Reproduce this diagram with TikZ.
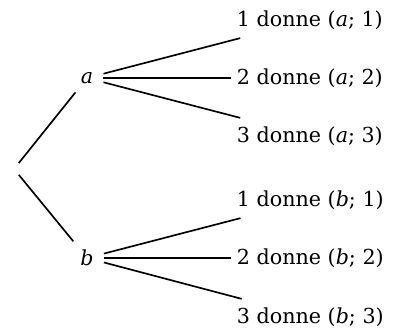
\documentclass[tikz,border=0pt]{standalone}
\usepackage{fontspec}
\setmainfont{DejaVu Serif}
\begin{document}
\begin{tikzpicture}[x=0.6pt,y=-0.6pt,
  every node/.style={font=\fontsize{12.4}{15}\selectfont},
  branch/.style={line width=1pt},
  inner/.style={inner xsep=6pt, inner ysep=5pt},
  leaf/.style={anchor=west, inner ysep=5pt}]
\useasboundingbox (0,0) rectangle (395,330);
\node (root) at (14,169) {};
\node[inner] (a) at (87,78) {\textit{a}};
\node[inner] (b) at (87,258) {\textit{b}};
\node[leaf] (a1) at (231,20) {1 donne (\textit{a}; 1)};
\node[leaf] (a2) at (231,78) {2 donne (\textit{a}; 2)};
\node[leaf] (a3) at (231,136) {3 donne (\textit{a}; 3)};
\node[leaf] (b1) at (231,200) {1 donne (\textit{b}; 1)};
\node[leaf] (b2) at (231,258) {2 donne (\textit{b}; 2)};
\node[leaf] (b3) at (231,317) {3 donne (\textit{b}; 3)};
\draw[branch] (root) -- (a);
\draw[branch] (root) -- (b);
\draw[branch] (a) -- (a1);
\draw[branch] (a) -- (a2);
\draw[branch] (a) -- (a3);
\draw[branch] (b) -- (b1);
\draw[branch] (b) -- (b2);
\draw[branch] (b) -- (b3);
\end{tikzpicture}
\end{document}
